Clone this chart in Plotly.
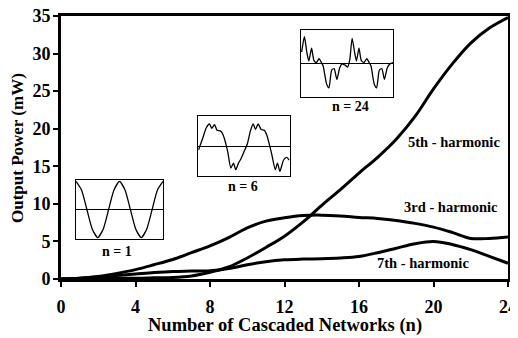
import plotly.graph_objects as go

# ---- main chart data ----
n_values = list(range(0, 25))
third_harm = [0, 0.1, 0.35, 0.75, 1.25, 1.9, 2.6, 3.5, 4.4, 5.5, 6.8, 7.7, 8.15, 8.45,
              8.5, 8.4, 8.2, 8.05, 7.8, 7.4, 6.9, 6.2, 5.4, 5.4, 5.6]
fifth_harm = [0, 0, 0.05, 0.1, 0.1, 0.15, 0.2, 0.4, 0.9, 1.6, 2.8, 4.2, 5.7, 7.6,
              9.8, 11.9, 14.1, 16.2, 18.6, 21.6, 25.3, 28.6, 31.4, 33.4, 34.8]
seventh_harm = [0, 0.1, 0.25, 0.45, 0.65, 0.85, 1.0, 1.05, 1.1, 1.4, 1.9, 2.3, 2.55, 2.65,
                2.7, 2.8, 3.0, 3.5, 4.1, 4.7, 5.0, 4.6, 3.9, 3.0, 2.1]
x_ticks = [0, 4, 8, 12, 16, 20, 24]
y_ticks = [0, 5, 10, 15, 20, 25, 30, 35]

# ---- inset waveform samples ----
wave1_t = [0, 0.0625, 0.125, 0.1875, 0.25, 0.3125, 0.375, 0.4375, 0.5,
           0.5625, 0.625, 0.6875, 0.75, 0.8125, 0.875, 0.9375, 1.0]
wave1_v = [1, 0.7, 0.0, -0.7, -1, -0.7, 0.0, 0.7, 1, 0.7, 0.0, -0.7, -1, -0.7, 0.0, 0.7, 1]

wave6_t = [0.007, 0.054, 0.09, 0.125, 0.15, 0.18, 0.207, 0.243, 0.27, 0.32, 0.357, 0.386,
           0.41, 0.44, 0.46, 0.5, 0.536, 0.57, 0.6, 0.625, 0.654, 0.686, 0.72, 0.75, 0.8,
           0.84, 0.864, 0.89, 0.93, 0.964, 0.99]
wave6_v = [-0.13, 0.3, 0.64, 0.77, 0.62, 0.75, 0.55, 0.53, 0.41, -0.15, -0.77, -0.6,
           -0.83, -0.6, -0.49, -0.2, 0.07, 0.53, 0.77, 0.58, 0.77, 0.58, 0.55, 0.36, -0.27,
           -0.83, -0.6, -0.89, -0.49, -0.4, -0.49]

wave24_t = [0.007, 0.037, 0.063, 0.085, 0.115, 0.14, 0.167, 0.196, 0.222, 0.24, 0.278,
            0.304, 0.333, 0.36, 0.39, 0.42, 0.444, 0.48, 0.507, 0.53, 0.556, 0.585, 0.603,
            0.63, 0.655, 0.685, 0.715, 0.74, 0.76, 0.796, 0.822, 0.852, 0.878, 0.907,
            0.937, 0.963, 1.0]
wave24_v = [0.36, 0.84, 0.36, 0.08, 0.48, 0.1, 0.03, 0.15, 0.03, -0.07, -0.64, -0.76,
            -0.21, -0.16, -0.5, -0.14, -0.02, -0.05, -0.11, 0.12, 0.79, 0.31, 0.08, 0.48,
            0.1, 0.03, 0.15, 0.03, -0.07, -0.64, -0.76, -0.21, -0.16, -0.5, -0.14, -0.02,
            0.03]

FONT = "Liberation Serif"
line_style = dict(color="black", width=3, shape="spline", smoothing=1.0)

fig = go.Figure()
for ys in (third_harm, fifth_harm, seventh_harm):
    fig.add_trace(go.Scatter(x=n_values, y=ys, mode="lines", line=line_style,
                             hoverinfo="skip", showlegend=False))

insets = [
    (wave1_t, wave1_v, "x2", "y2"),
    (wave6_t, wave6_v, "x3", "y3"),
    (wave24_t, wave24_v, "x4", "y4"),
]
for t, v, xa, ya in insets:
    fig.add_trace(go.Scatter(x=t, y=v, mode="lines", xaxis=xa, yaxis=ya,
                             line=dict(color="black", width=1.3, shape="spline", smoothing=0.6),
                             hoverinfo="skip", showlegend=False))

# page has an 8px body margin: the figure starts at (8, 8) in the window
OFF = 8
WIN_W, WIN_H = 518, 338
PL, PR, PT, PB = 61, 508, 16, 279  # plot area in window pixels
W, H = WIN_W - OFF, WIN_H - OFF
L, T = PL - OFF, PT - OFF
R, B = W - (PR - OFF), H - (PB - OFF)
pw, ph = PR - PL, PB - PT


def px_x(p):
    return (p - PL) / pw


def px_y(p):
    return (PB - p) / ph


def px_dom_x(a, b):
    return [px_x(a), px_x(b)]


def px_dom_y(top, bottom):
    return [px_y(bottom), px_y(top)]


inset_boxes = {
    "2": (px_dom_x(76, 163), px_dom_y(180, 239)),
    "3": (px_dom_x(198, 290), px_dom_y(116, 176)),
    "4": (px_dom_x(301, 393), px_dom_y(30, 97)),
}

tickfont = dict(family=FONT, size=18, weight="bold", color="black")
layout = dict(
    width=W, height=H,
    margin=dict(l=L, r=R, t=T, b=B, autoexpand=False),
    paper_bgcolor="white", plot_bgcolor="white",
    font=dict(family=FONT, color="black"),
    xaxis=dict(range=[0, 24], tickvals=x_ticks, ticktext=[str(v) for v in x_ticks],
               showgrid=False, zeroline=False, showline=True, linecolor="black",
               linewidth=3, mirror=True, ticks="outside", ticklen=5, tickwidth=2,
               tickcolor="black", tickfont=tickfont, ticklabelstandoff=4,
               ticklabeloverflow="allow", automargin=False),
    yaxis=dict(range=[0, 35], tickvals=y_ticks, ticktext=[str(v) for v in y_ticks],
               showgrid=False, zeroline=False, showline=True, linecolor="black",
               linewidth=3, mirror=True, ticks="outside", ticklen=5, tickwidth=2,
               tickcolor="black", tickfont=tickfont, ticklabelstandoff=-1,
               ticklabeloverflow="allow", automargin=False),
)
for k, (dx, dy) in inset_boxes.items():
    layout["xaxis" + k] = dict(domain=dx, range=[0, 1], anchor="y" + k, showgrid=False,
                               zeroline=False, showticklabels=False, ticks="",
                               showline=True, mirror=True, linecolor="black", linewidth=1,
                               automargin=False)
    layout["yaxis" + k] = dict(domain=dy, range=[-1.05, 1.05], anchor="x" + k, showgrid=False,
                               zeroline=True, zerolinecolor="black", zerolinewidth=1,
                               showticklabels=False, ticks="",
                               showline=True, mirror=True, linecolor="black", linewidth=1,
                               automargin=False)
fig.update_layout(**layout)

# axis titles
fig.add_annotation(text="<b>Number of Cascaded Networks (n)</b>", x=px_x(285), y=px_y(325),
                   xref="paper", yref="paper", showarrow=False, xanchor="center",
                   yanchor="middle", font=dict(family=FONT, size=18.5, color="black"))
fig.add_annotation(text="<b>Output Power (mW)</b>", x=px_x(17), y=px_y(148),
                   xref="paper", yref="paper", showarrow=False, xanchor="center",
                   yanchor="middle", textangle=-90,
                   font=dict(family=FONT, size=17, color="black"))

labels = [
    ("<b>5th - harmonic</b>", 454, 142, 14.5),
    ("<b>3rd - harmonic</b>", 451, 207, 14.5),
    ("<b>7th - harmonic</b>", 423, 263, 14.5),
    ("<b>n = 1</b>", 117, 251, 14),
    ("<b>n = 6</b>", 243, 186, 14),
    ("<b>n = 24</b>", 350, 107, 14),
]
for text, xpx, ypx, fs in labels:
    fig.add_annotation(text=text, x=px_x(xpx), y=px_y(ypx),
                       xref="paper", yref="paper", showarrow=False,
                       xanchor="center", yanchor="middle",
                       font=dict(family=FONT, size=fs, color="black"))

fig.write_html("out.html")
